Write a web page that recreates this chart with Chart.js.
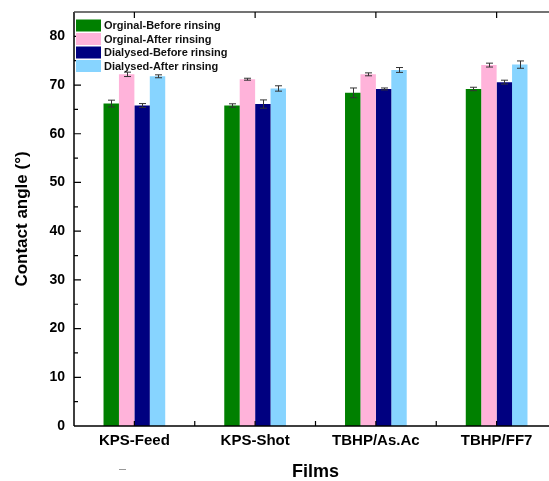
<!DOCTYPE html>
<html>
<head>
<meta charset="utf-8">
<script src="https://cdn.jsdelivr.net/npm/chart.js@4/dist/chart.umd.min.js"></script>
<style>
  html, body { margin: 0; padding: 0; background: #fff; overflow: hidden; }
  #wrap { width: 560px; height: 481px; }
</style>
</head>
<body>
<div id="wrap"><canvas id="c" width="560" height="481"></canvas></div>
<script>
// Contact angle of films before and after rinsing
const categories = ['KPS-Feed', 'KPS-Shot', 'TBHP/As.Ac', 'TBHP/FF7'];
const seriesNames = ['Orginal-Before rinsing', 'Orginal-After rinsing', 'Dialysed-Before rinsing', 'Dialysed-After rinsing'];

const orgBefore = [66.2, 65.8, 68.4, 69.2];
const orgAfter = [72.2, 71.2, 72.2, 74.1];
const dialBefore = [65.8, 66.1, 69.2, 70.6];
const dialAfter = [71.8, 69.3, 73.1, 74.2];

const orgBeforeErr = [0.7, 0.35, 1.0, 0.35];
const orgAfterErr = [0.45, 0.2, 0.3, 0.4];
const dialBeforeErr = [0.4, 0.85, 0.2, 0.4];
const dialAfterErr = [0.3, 0.55, 0.5, 0.75];

const yTicks = [0, 10, 20, 30, 40, 50, 60, 70, 80];

const colors = ['#008000', '#FFB3DA', '#000080', '#87D4FF'];
const FONT = "'Liberation Sans', Arial, sans-serif";

const seriesValues = [orgBefore, orgAfter, dialBefore, dialAfter];
const seriesErrors = [orgBeforeErr, orgAfterErr, dialBeforeErr, dialAfterErr];

const datasets = seriesNames.map((name, i) => ({
  label: name,
  data: seriesValues[i],
  errors: seriesErrors[i],
  backgroundColor: colors[i],
  borderWidth: 0,
  barPercentage: 1.0,
  categoryPercentage: 0.511
}));

// error bars, axis frame with inward ticks, and the in-plot legend
const decorations = {
  id: 'decorations',
  afterDatasetsDraw(chart) {
    const ctx = chart.ctx;
    const xs = chart.scales.x, ys = chart.scales.y;
    const area = chart.chartArea;
    ctx.save();

    // error bars
    ctx.strokeStyle = '#333';
    ctx.lineWidth = 1;
    chart.data.datasets.forEach((ds, i) => {
      const meta = chart.getDatasetMeta(i);
      meta.data.forEach((bar, j) => {
        const v = ds.data[j], e = ds.errors[j];
        const yHi = ys.getPixelForValue(v + e), yLo = ys.getPixelForValue(v - e);
        const x = Math.round(bar.x) + 0.5;
        ctx.beginPath();
        ctx.moveTo(x, yHi); ctx.lineTo(x, yLo);
        ctx.moveTo(x - 3.5, yHi); ctx.lineTo(x + 3.5, yHi);
        ctx.moveTo(x - 3.5, yLo); ctx.lineTo(x + 3.5, yLo);
        ctx.stroke();
      });
    });

    // axis lines
    ctx.strokeStyle = '#000';
    ctx.lineWidth = 1.5;
    ctx.beginPath();
    ctx.moveTo(area.left, area.top); ctx.lineTo(area.left, area.bottom);
    ctx.moveTo(area.left, area.bottom); ctx.lineTo(area.right, area.bottom);
    ctx.stroke();
    ctx.strokeStyle = '#444';
    ctx.beginPath();
    ctx.moveTo(area.left, area.top); ctx.lineTo(area.right, area.top);
    ctx.stroke();

    // y ticks: major every 10, minor every 5
    ctx.strokeStyle = '#000';
    ctx.lineWidth = 1.2;
    ctx.beginPath();
    for (let v = 5; v <= 80; v += 5) {
      const y = ys.getPixelForValue(v);
      const len = (v % 10 === 0) ? 7 : 4;
      ctx.moveTo(area.left, y); ctx.lineTo(area.left + len, y);
    }
    // bottom ticks at category boundaries and centres
    const n = categories.length;
    for (let j = 0; j < n; j++) {
      const c = xs.getPixelForValue(j);
      ctx.moveTo(c, area.bottom); ctx.lineTo(c, area.bottom - 5);
      if (j > 0) {
        const b = (xs.getPixelForValue(j - 1) + c) / 2;
        ctx.moveTo(b, area.bottom); ctx.lineTo(b, area.bottom - 5);
      }
      // top ticks at category centres
      ctx.moveTo(c, area.top); ctx.lineTo(c, area.top + 6);
    }
    ctx.stroke();

    // legend
    const lx = area.left + 2, ly = area.top + 7.5;
    ctx.font = 'bold 11px ' + FONT;
    ctx.textBaseline = 'middle';
    ctx.textAlign = 'left';
    chart.data.datasets.forEach((ds, i) => {
      const y = ly + i * 13.5;
      ctx.fillStyle = ds.backgroundColor;
      ctx.fillRect(lx, y, 25, 12);
      ctx.fillStyle = '#111';
      ctx.fillText(ds.label, lx + 28, y + 6.5);
    });

    // small stray mark below the first category label
    ctx.strokeStyle = '#999';
    ctx.lineWidth = 1;
    ctx.beginPath();
    ctx.moveTo(119, 469.5); ctx.lineTo(126, 469.5);
    ctx.stroke();

    ctx.restore();
  }
};

new Chart(document.getElementById('c'), {
  type: 'bar',
  data: { labels: categories, datasets },
  options: {
    responsive: false,
    animation: false,
    devicePixelRatio: 1,
    layout: { padding: { top: 12, right: 3, left: 0, bottom: 0 } },
    plugins: { legend: { display: false }, tooltip: { enabled: false } },
    scales: {
      x: {
        type: 'category',
        offset: true,
        grid: { display: false, drawTicks: false },
        border: { display: false },
        ticks: {
          color: '#000',
          font: { family: FONT, size: 15, weight: 'bold' },
          padding: 6,
          maxRotation: 0,
          autoSkip: false
        },
        title: {
          display: true,
          text: 'Films',
          color: '#000',
          font: { family: FONT, size: 18, weight: 'bold', lineHeight: 1 },
          padding: { top: 0, bottom: 0 }
        },
        afterFit(s) { s.height = 55; s.paddingLeft = 0; s.paddingRight = 0; }
      },
      y: {
        min: 0,
        max: 85,
        grid: { display: false, drawTicks: false },
        border: { display: false },
        afterBuildTicks(s) { s.ticks = yTicks.map(v => ({ value: v })); },
        ticks: {
          color: '#000',
          font: { family: FONT, size: 14, weight: 'bold' },
          padding: 9
        },
        title: {
          display: true,
          text: 'Contact angle (°)',
          color: '#000',
          font: { family: FONT, size: 17, weight: 'bold', lineHeight: 1.2 },
          padding: { top: 12, bottom: 0 }
        },
        afterFit(s) { s.width = 74; s.paddingTop = 0; s.paddingBottom = 0; }
      }
    }
  },
  plugins: [decorations]
});
</script>
</body>
</html>
